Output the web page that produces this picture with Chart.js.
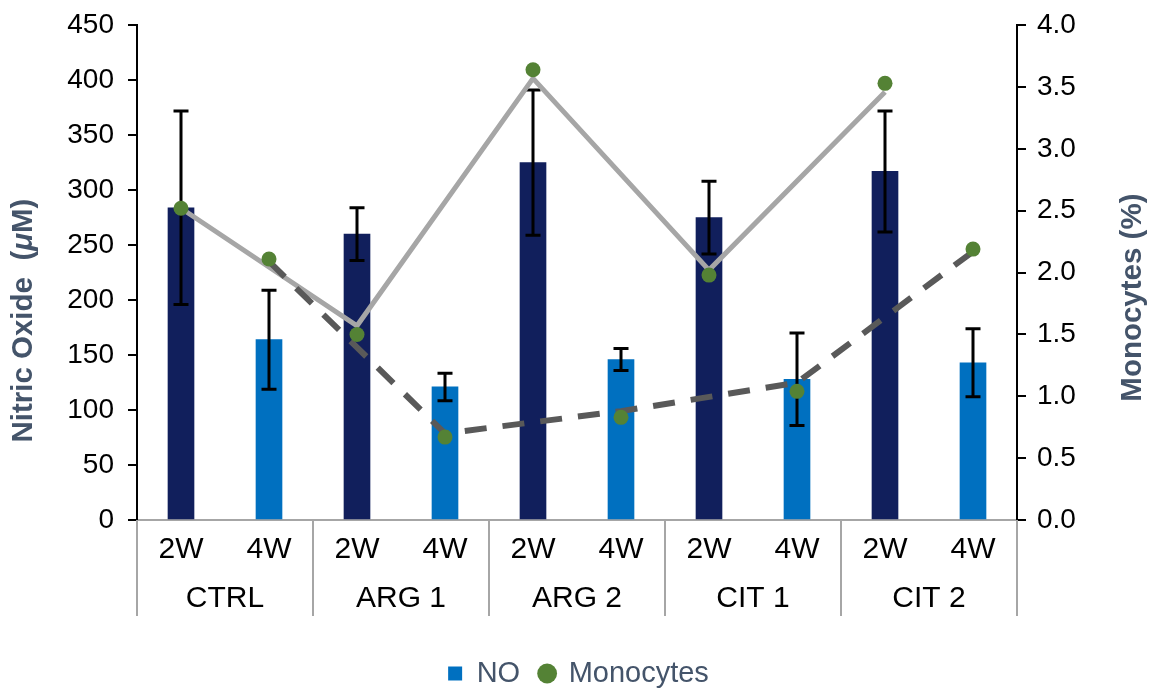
<!DOCTYPE html>
<html>
<head>
<meta charset="utf-8">
<script src="https://cdn.jsdelivr.net/npm/chart.js@4.4.1/dist/chart.umd.min.js"></script>
<style>
  html, body { margin: 0; padding: 0; background: #ffffff; }
  #wrap { width: 1157px; height: 693px; }
</style>
</head>
<body>
<div id="wrap"><canvas id="chart" width="1157" height="693"></canvas></div>
<script>
// Treatment groups and sampling weeks (two-level category axis)
const groups = ['CTRL', 'ARG 1', 'ARG 2', 'CIT 1', 'CIT 2'];
const weeks = ['2W', '4W'];

// Nitric oxide (µM): mean and error per group/week
const noValues = [284, 164, 260, 121, 325, 146, 275, 128, 317, 143];
const noErrors = [88, 45, 24, 12.5, 66, 10, 33, 42, 55, 31];

// Monocytes (%) per group/week
const monocytes = [2.52, 2.11, 1.50, 0.67, 3.64, 0.83, 1.98, 1.04, 3.53, 2.19];

// Connecting lines: 2W samples (solid) and 4W samples (dashed)
const line2W = [2.52, null, 1.57, null, 3.57, null, 2.02, null, 3.46, null];
const line4W = [null, 2.09, null, 0.70, null, 0.88, null, 1.11, null, 2.17];

// Axis ranges
const noAxis = { min: 0, max: 450, step: 50 };
const monoAxis = { min: 0, max: 4, step: 0.5 };

const labels = groups.flatMap(g => weeks.map(w => [w, g]));

const FONT = '"Liberation Sans", Arial, Helvetica, sans-serif';
const NAVY = '#111f5c';
const BLUE = '#0070c0';
const GREEN = '#548235';
const TITLE_COLOR = '#44546a';

// Error bars drawn right after the bars, beneath the lines and points
const errorBars = {
  id: 'errorBars',
  afterDatasetDraw(chart, args) {
    if (args.index !== 0) return;
    const ctx = chart.ctx;
    const y = chart.scales.y;
    const meta = args.meta;
    ctx.save();
    ctx.strokeStyle = '#000000';
    ctx.lineWidth = 3;
    meta.data.forEach((bar, i) => {
      const x = bar.x;
      const top = y.getPixelForValue(noValues[i] + noErrors[i]);
      const bot = y.getPixelForValue(noValues[i] - noErrors[i]);
      const cap = 7.5;
      ctx.beginPath();
      ctx.moveTo(x, top); ctx.lineTo(x, bot);
      ctx.moveTo(x - cap, top); ctx.lineTo(x + cap, top);
      ctx.moveTo(x - cap, bot); ctx.lineTo(x + cap, bot);
      ctx.stroke();
    });
    ctx.restore();
  }
};

// Rotated axis title made of styled runs, centred on (cx, cy)
function drawVerticalTitle(ctx, runs, cx, cy) {
  ctx.save();
  ctx.translate(cx, cy);
  ctx.rotate(-Math.PI / 2);
  ctx.fillStyle = TITLE_COLOR;
  ctx.textAlign = 'left';
  ctx.textBaseline = 'middle';
  let total = 0;
  runs.forEach(r => { ctx.font = r.font; r.w = ctx.measureText(r.text).width; total += r.w; });
  let x = -total / 2;
  runs.forEach(r => { ctx.font = r.font; ctx.fillText(r.text, x, 0); x += r.w; });
  ctx.restore();
}

// Two-level category labels with group separators, plus axis titles
const groupAxis = {
  id: 'groupAxis',
  afterDraw(chart) {
    const ctx = chart.ctx;
    const xs = chart.scales.x;
    const base = xs.top;
    const px = i => xs.getPixelForValue(i);
    ctx.save();
    ctx.fillStyle = '#000000';
    ctx.textAlign = 'center';
    ctx.textBaseline = 'middle';
    ctx.font = '30px ' + FONT;
    labels.forEach((l, i) => ctx.fillText(l[0], px(i), base + 30));
    groups.forEach((g, k) => {
      const c = (px(2 * k) + px(2 * k + 1)) / 2;
      ctx.fillText(g, c, base + 79);
    });
    ctx.strokeStyle = '#a6a6a6';
    ctx.lineWidth = 2;
    for (let k = 0; k <= groups.length; k++) {
      let x;
      if (k === 0) x = xs.left;
      else if (k === groups.length) x = xs.right;
      else x = (px(2 * k - 1) + px(2 * k)) / 2;
      ctx.beginPath();
      ctx.moveTo(x, base);
      ctx.lineTo(x, base + 96);
      ctx.stroke();
    }
    ctx.restore();

    const bold = 'bold 29.5px ' + FONT;
    const boldItalic = 'italic bold 29.5px ' + FONT;
    const yl = chart.scales.y;
    const yr = chart.scales.y1;
    drawVerticalTitle(ctx, [
      { text: 'Nitric Oxide  (', font: bold },
      { text: '\u03BC', font: boldItalic },
      { text: 'M)', font: bold }
    ], yl.left + 24, (yl.top + base + 96) / 2);
    drawVerticalTitle(ctx, [
      { text: 'Monocytes (%)', font: bold }
    ], yr.right - 24, (yr.top + base + 50) / 2);
  }
};

new Chart(document.getElementById('chart'), {
  type: 'bar',
  data: {
    labels: labels.map(l => l[1] + ' ' + l[0]),
    datasets: [
      {
        label: 'NO',
        data: noValues,
        yAxisID: 'y',
        backgroundColor: noValues.map((v, i) => i % 2 === 0 ? NAVY : BLUE),
        barThickness: 26,
        order: 4
      },
      {
        type: 'line',
        label: 'Monocytes',
        data: monocytes,
        yAxisID: 'y1',
        showLine: false,
        pointRadius: 7.5,
        pointBorderWidth: 0,
        pointBackgroundColor: GREEN,
        pointBorderColor: GREEN,
        order: 0
      },
      {
        type: 'line',
        label: 'Monocytes 2W',
        data: line2W,
        yAxisID: 'y1',
        spanGaps: true,
        borderColor: '#a6a6a6',
        borderWidth: 5,
        tension: 0,
        pointRadius: 0,
        order: 2
      },
      {
        type: 'line',
        label: 'Monocytes 4W',
        data: line4W,
        yAxisID: 'y1',
        spanGaps: true,
        borderColor: '#595959',
        borderWidth: 6,
        borderDash: [22, 16],
        borderCapStyle: 'butt',
        tension: 0,
        pointRadius: 0,
        order: 1
      }
    ]
  },
  options: {
    responsive: false,
    animation: false,
    devicePixelRatio: 1,
    layout: { padding: { top: 0, left: 0, right: 0, bottom: -5 } },
    plugins: {
      tooltip: { enabled: false },
      legend: {
        position: 'bottom',
        labels: {
          usePointStyle: true,
          boxWidth: 14,
          boxHeight: 14,
          padding: 20,
          color: TITLE_COLOR,
          font: { family: FONT, size: 29 },
          generateLabels: () => [
            { text: 'NO', fillStyle: BLUE, strokeStyle: BLUE, lineWidth: 0, pointStyle: 'rect', datasetIndex: 0, fontColor: TITLE_COLOR },
            { text: 'Monocytes', fillStyle: GREEN, strokeStyle: GREEN, lineWidth: 0, pointStyle: 'circle', datasetIndex: 1, fontColor: TITLE_COLOR }
          ]
        }
      }
    },
    scales: {
      x: {
        offset: true,
        grid: { display: false },
        ticks: { display: false },
        border: { display: true, color: '#a6a6a6', width: 2 },
        afterFit: s => { s.height = 119; }
      },
      y: {
        position: 'left',
        min: noAxis.min,
        max: noAxis.max,
        ticks: { stepSize: noAxis.step, color: '#000000', padding: 14, font: { family: FONT, size: 28, lineHeight: 0.8 } },
        grid: { drawOnChartArea: false, drawTicks: true, tickLength: 9, color: '#000000', lineWidth: 2 },
        border: { display: true, color: '#000000', width: 2 },
        title: { display: false },
        afterFit: s => { s.width = 137; }
      },
      y1: {
        position: 'right',
        min: monoAxis.min,
        max: monoAxis.max,
        ticks: {
          stepSize: monoAxis.step,
          color: '#000000',
          padding: 11,
          font: { family: FONT, size: 28, lineHeight: 0.8 },
          callback: v => Number(v).toFixed(1)
        },
        grid: { drawOnChartArea: false, drawTicks: true, tickLength: 9, color: '#000000', lineWidth: 2 },
        border: { display: true, color: '#000000', width: 2 },
        title: { display: false },
        afterFit: s => { s.width = 140; }
      }
    }
  },
  plugins: [errorBars, groupAxis]
});
</script>
</body>
</html>
